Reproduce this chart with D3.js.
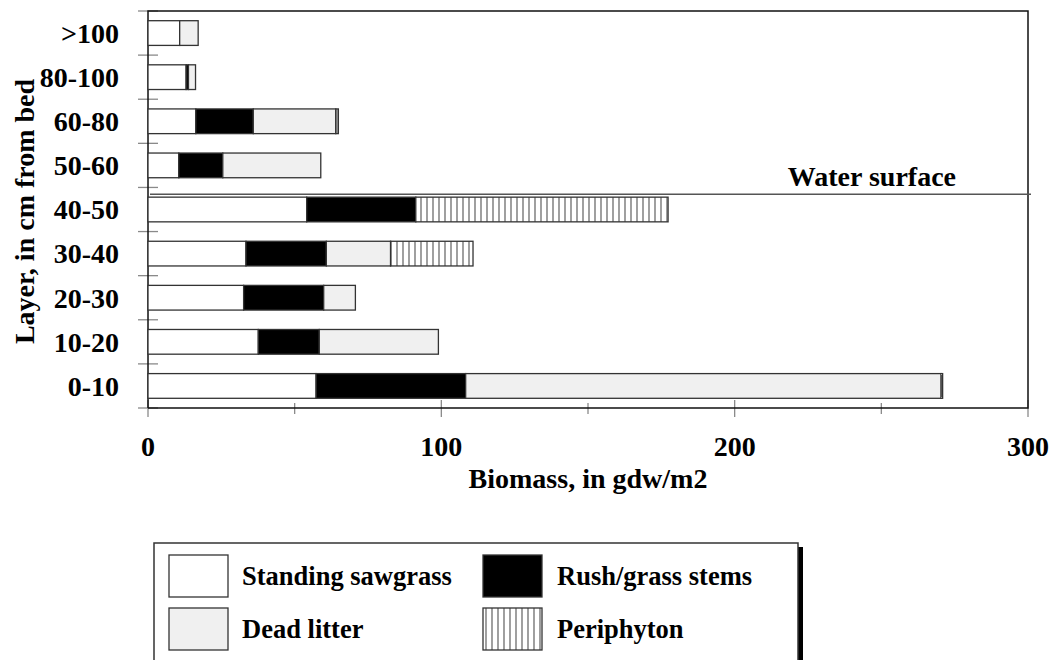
<!DOCTYPE html>
<html>
<head>
<meta charset="utf-8">
<script src="https://cdn.jsdelivr.net/npm/d3@7/dist/d3.min.js"></script>
<style>
    body { margin: 0; background: #fff; }
    #chart { width: 1049px; height: 660px; }
    text { font-family: "Liberation Serif", "Times New Roman", serif; font-weight: bold; fill: #000; }
</style>
</head>
<body>
<div id="chart"></div>
<script>
//Datos (de arriba a abajo)
const capas = ['>100','80-100','60-80','50-60','40-50','30-40','20-30','10-20','0-10'];
const standing = [10.8, 13.0, 16.3, 10.5, 54.1, 33.4, 32.6, 37.6, 57.3];
const rush     = [0,    0.8,  19.6, 15.0, 37.2, 27.4, 27.3, 20.8, 51.0];
const litter   = [6.3,  2.4,  28.1, 33.4, 0,    21.9, 10.8, 40.6, 162.1];
const periph   = [0,    0,    0.9,  0,    86.0, 28.1, 0,    0,    0.5];

const xTicks = [0, 100, 200, 300];
const xMinor = [50, 150, 250];

const series = ['standing','rush','litter','periph'];
const seriesLabels = ['Standing sawgrass','Rush/grass stems','Dead litter','Periphyton'];

//Colores fijos
const COLOR_LINE = '#333',
COLOR_TICK = '#8a8a8a',
COLOR_LITTER = '#f0f0f0';

let margin = {top: 11, right: 21, bottom: 252, left: 148},
    width = 1049 - margin.left - margin.right,
    height = 660 - margin.top - margin.bottom;

let data = capas.map(function(c, i) {
    return {capa: c, standing: standing[i], rush: rush[i], litter: litter[i], periph: periph[i]};
});

let svgRoot = d3.select('#chart')
    .append('svg')
      .attr('width', 1049)
      .attr('height', 660);

//Patrón rayado para perifiton
let pattern = svgRoot.append('defs')
    .append('pattern')
      .attr('id', 'hatch')
      .attr('patternUnits', 'userSpaceOnUse')
      .attr('width', 6)
      .attr('height', 10);
pattern.append('rect').attr('width', 6).attr('height', 10).attr('fill', '#fff');
pattern.append('line')
    .attr('x1', 3).attr('x2', 3).attr('y1', 0).attr('y2', 10)
    .attr('stroke', '#777').attr('stroke-width', 1.4);

let svg = svgRoot.append('g')
    .attr('transform', 'translate(' + margin.left + ',' + margin.top + ')');

let x = d3.scaleLinear()
    .domain([0, 300])
    .range([0, width]);

let y = d3.scaleBand()
    .domain(capas)
    .range([0, height])
    .paddingInner(0.44)
    .paddingOuter(0.22);

let color = d3.scaleOrdinal()
    .domain(series)
    .range(['#fff', '#000', COLOR_LITTER, 'url(#hatch)']);

//Ticks grises
let bounds = capas.map(function(c) { return y(c) - y.step() * y.paddingOuter(); });
bounds.push(height);
svg.append('g')
    .selectAll('line')
    .data(bounds)
    .enter()
    .append('line')
      .attr('x1', -10).attr('x2', 10)
      .attr('y1', function(d) { return d; }).attr('y2', function(d) { return d; })
      .attr('stroke', COLOR_TICK).attr('stroke-width', 1.3);

svg.append('g')
    .selectAll('line')
    .data(xTicks)
    .enter()
    .append('line')
      .attr('x1', function(d) { return x(d); }).attr('x2', function(d) { return x(d); })
      .attr('y1', height - 8).attr('y2', height + 9)
      .attr('stroke', COLOR_TICK).attr('stroke-width', 1.3);

svg.append('g')
    .selectAll('line')
    .data(xMinor)
    .enter()
    .append('line')
      .attr('x1', function(d) { return x(d); }).attr('x2', function(d) { return x(d); })
      .attr('y1', height - 5).attr('y2', height + 6)
      .attr('stroke', COLOR_TICK).attr('stroke-width', 1.3);

//Marco
svg.append('path')
    .attr('d', 'M0,' + height + 'V0H' + width + 'V' + height + 'H0')
    .attr('fill', 'none')
    .attr('stroke', '#111')
    .attr('stroke-width', 1.5);

//Etiquetas eje X
svg.append('g')
    .selectAll('text')
    .data(xTicks)
    .enter()
    .append('text')
      .attr('x', function(d) { return x(d); })
      .attr('y', height + 48)
      .attr('text-anchor', 'middle')
      .style('font-size', '28px')
      .text(function(d) { return d; });

svg.append('text')
    .attr('x', width / 2)
    .attr('y', height + 80)
    .attr('text-anchor', 'middle')
    .style('font-size', '28px')
    .text('Biomass, in gdw/m2');

//Etiquetas eje Y
svg.append('g')
    .selectAll('text')
    .data(capas)
    .enter()
    .append('text')
      .attr('x', -29)
      .attr('y', function(d) { return y(d) + y.bandwidth() / 2; })
      .attr('dy', '0.35em')
      .attr('text-anchor', 'end')
      .style('font-size', '28px')
      .text(function(d) { return d; });

svg.append('text')
    .attr('transform', 'translate(' + (-124) + ',' + (height / 2 + 2) + ') rotate(-90)')
    .attr('dy', '0.35em')
    .attr('text-anchor', 'middle')
    .style('font-size', '28px')
    .text('Layer, in cm from bed');

//Superficie del agua
let waterY = y('40-50') - 3;
svg.append('line')
    .attr('x1', 2).attr('x2', width + 3)
    .attr('y1', waterY).attr('y2', waterY)
    .attr('stroke', '#555').attr('stroke-width', 1.5);

svg.append('text')
    .attr('x', x(300) - 72)
    .attr('y', waterY - 8)
    .attr('text-anchor', 'end')
    .style('font-size', '28px')
    .text('Water surface');

//Barras apiladas
let stacked = d3.stack().keys(series)(data);

svg.append('g')
    .selectAll('g')
    .data(stacked)
    .enter()
    .append('g')
      .attr('fill', function(d) { return color(d.key); })
    .selectAll('rect')
    .data(function(d) { return d.filter(function(e) { return e[1] - e[0] > 0; }); })
    .enter()
    .append('rect')
      .attr('x', function(d) { return x(d[0]); })
      .attr('y', function(d) { return y(d.data.capa); })
      .attr('width', function(d) { return x(d[1]) - x(d[0]); })
      .attr('height', y.bandwidth())
      .attr('stroke', COLOR_LINE)
      .attr('stroke-width', 1.3);

//Leyenda
let legend = svgRoot.append('g')
    .attr('transform', 'translate(154,543)');

legend.append('rect')
    .attr('x', 644).attr('y', 4)
    .attr('width', 5).attr('height', 140)
    .attr('fill', '#000');

legend.append('rect')
    .attr('x', 0).attr('y', 0)
    .attr('width', 644).attr('height', 140)
    .attr('fill', '#fff')
    .attr('stroke', COLOR_LINE)
    .attr('stroke-width', 1.5);

let legendOrder = ['standing','rush','litter','periph'];
let items = legend.selectAll('.item')
    .data(legendOrder)
    .enter()
    .append('g')
      .attr('class', 'item')
      .attr('transform', function(d, i) {
          return 'translate(' + (i % 2 === 0 ? 15 : 329) + ',' + (i < 2 ? 12 : 65) + ')';
      });

items.append('rect')
    .attr('width', 59)
    .attr('height', 42)
    .attr('fill', function(d) { return color(d); })
    .attr('stroke', COLOR_LINE)
    .attr('stroke-width', 1.3);

items.append('text')
    .attr('x', function(d, i) { return i % 2 === 0 ? 73 : 74; })
    .attr('y', 30)
    .style('font-size', '26.5px')
    .text(function(d) { return seriesLabels[series.indexOf(d)]; });
</script>
</body>
</html>
